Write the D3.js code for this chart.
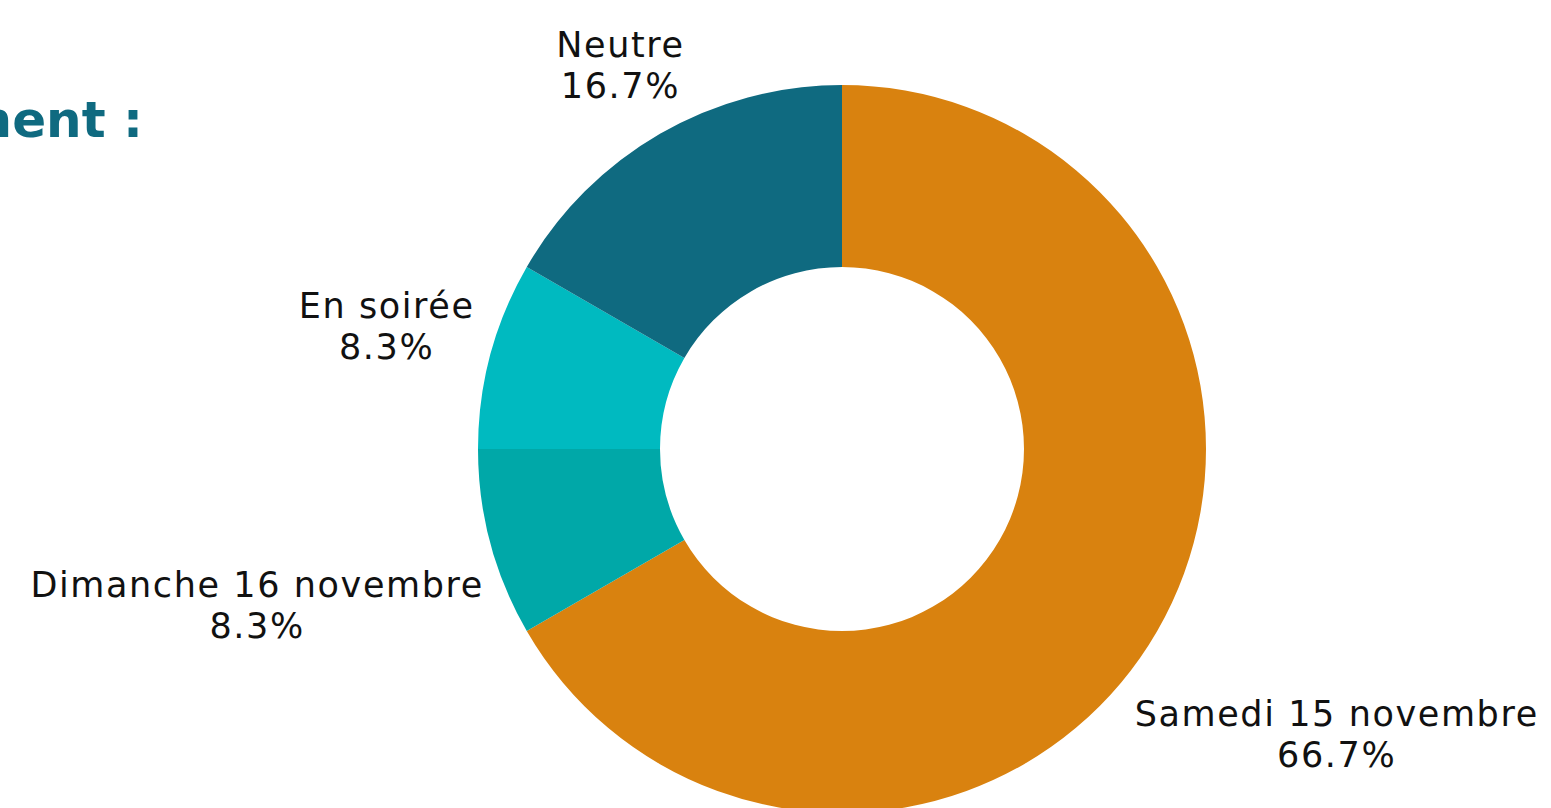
<!DOCTYPE html>
<html>
<head>
<meta charset="utf-8">
<script src="https://cdn.jsdelivr.net/npm/d3@7"></script>
<style>
  html, body { margin: 0; padding: 0; background: #ffffff; overflow: hidden; }
  svg { display: block; }
</style>
</head>
<body>
<svg id="chart" width="1551" height="808"></svg>
<script>
// ---- data ----
const categories = ["Samedi 15 novembre", "Dimanche 16 novembre", "En soirée", "Neutre"];
const counts = [8, 1, 1, 2];
const colors = ["#D9820F", "#00A8A8", "#00BAC0", "#0F6A80"];
const titleText = "Choix du moment :";

// ---- layout ----
const W = 1551, H = 808;
const cx = 842, cy = 449;
const outerR = 364, innerR = 182;
const labelPad = 12;
const fontFamily = "'DejaVu Sans', sans-serif";

const svg = d3.select("#chart");

// title (clipped at left edge as in reference)
svg.append("text")
  .attr("x", 143).attr("y", 137)
  .attr("text-anchor", "end")
  .attr("font-family", fontFamily)
  .attr("font-weight", "bold")
  .attr("font-size", 50)
  .attr("fill", "#0F6A80")
  .text(titleText);

const data = categories.map((c, i) => ({ name: c, value: counts[i], color: colors[i] }));
const total = d3.sum(counts);
const pct = d3.format(".1%");

const pie = d3.pie().sort(null).value(d => d.value).startAngle(0).endAngle(2 * Math.PI);
const arc = d3.arc().innerRadius(innerR).outerRadius(outerR);
const arcs = pie(data);

const g = svg.append("g").attr("transform", `translate(${cx},${cy})`);

g.selectAll("path.slice")
  .data(arcs)
  .join("path")
  .attr("class", "slice")
  .attr("d", arc)
  .attr("fill", d => d.data.color);

// outside labels
const lblG = g.selectAll("g.lbl")
  .data(arcs)
  .join("g")
  .attr("class", "lbl");

lblG.each(function (d) {
  const t = d3.select(this).append("text")
    .attr("font-family", fontFamily)
    .attr("font-size", 35)
    .attr("letter-spacing", 1.6)
    .attr("fill", "#111111")
    .attr("text-anchor", "middle");
  t.append("tspan").attr("x", 0).attr("dy", 0).text(d.data.name);
  t.append("tspan").attr("x", 0).attr("dy", 41).text(pct(d.data.value / total));
  const bb = this.getBBox();
  const hw = bb.width / 2, hh = bb.height / 2;
  const a = (d.startAngle + d.endAngle) / 2;
  const sx = Math.sin(a), sy = -Math.cos(a);
  const dist = outerR + labelPad + hw * Math.abs(sx) + hh * Math.abs(sy);
  const bx = dist * sx, by = dist * sy;
  const ox = bx - (bb.x + hw), oy = by - (bb.y + hh);
  d3.select(this).attr("transform", `translate(${ox},${oy})`);
});
</script>
</body>
</html>
